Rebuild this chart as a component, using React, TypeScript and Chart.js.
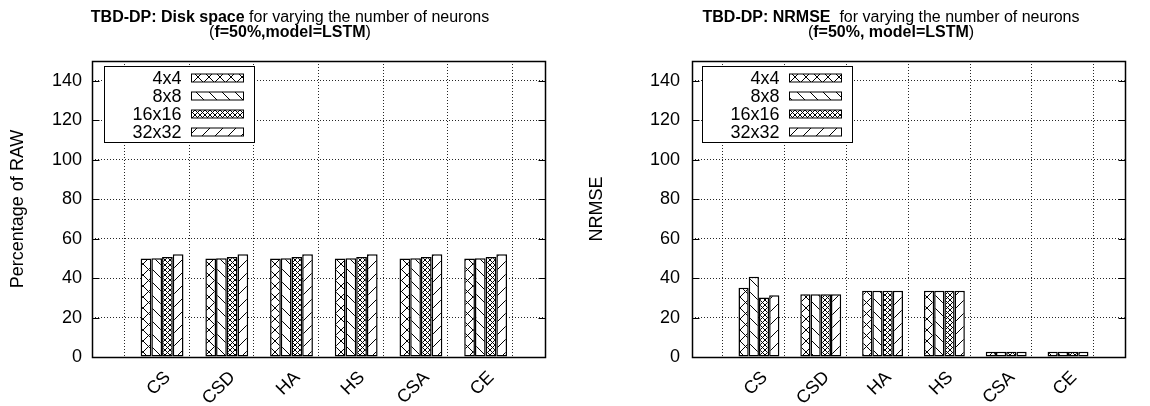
import React, { useEffect, useRef } from 'react';
import { Chart, registerables } from 'chart.js';

Chart.register(...registerables);

// ---------- data ----------
const categories = ['CS', 'CSD', 'HA', 'HS', 'CSA', 'CE'];
const seriesNames = ['4x4', '8x8', '16x16', '32x32'];

const disk4x4 = [49.9, 49.9, 49.9, 49.9, 49.9, 49.9];
const disk8x8 = [50.1, 50.1, 50.1, 50.1, 50.1, 50.1];
const disk16x16 = [50.7, 50.7, 50.7, 50.7, 50.7, 50.7];
const disk32x32 = [52.1, 52.1, 52.1, 52.1, 52.1, 52.1];

const nrmse4x4 = [35.1, 31.8, 33.6, 33.6, 2.7, 2.7];
const nrmse8x8 = [40.7, 31.8, 33.6, 33.6, 2.7, 2.7];
const nrmse16x16 = [30.1, 31.8, 33.6, 33.6, 2.7, 2.7];
const nrmse32x32 = [31.3, 31.8, 33.6, 33.6, 2.7, 2.7];

const yTicks = [0, 20, 40, 60, 80, 100, 120, 140];
const yMin = 0;
const yMax = 150;

const FONT = '"Liberation Sans", Arial, Helvetica, sans-serif';
const FS_TITLE = 16;
const FS = 18;

// ---------- patterns ----------
type Kind = 'x' | 'bs' | 'xx' | 'fs';
function makePattern(kind: Kind): CanvasPattern | string {
  const s = kind === 'x' ? 11 : kind === 'xx' ? 5 : 13;
  const tile = document.createElement('canvas');
  tile.width = s;
  tile.height = s;
  const c = tile.getContext('2d');
  if (!c) return '#fff';
  c.fillStyle = '#fff';
  c.fillRect(0, 0, s, s);
  c.strokeStyle = '#000';
  c.lineWidth = 1;
  c.beginPath();
  for (let k = -1; k <= 1; k++) {
    if (kind === 'x' || kind === 'xx' || kind === 'bs') {
      c.moveTo(k * s, 0);
      c.lineTo(k * s + s, s);
    }
    if (kind === 'x' || kind === 'xx' || kind === 'fs') {
      c.moveTo(k * s, s);
      c.lineTo(k * s + s, 0);
    }
  }
  c.stroke();
  const any = document.createElement('canvas').getContext('2d');
  const p = any ? any.createPattern(tile, 'repeat') : null;
  return p || '#fff';
}

// ---------- plugins ----------
type Part = { t: string; b: boolean };
function richTitlePlugin(lines: Part[][], cx: number, baselines: number[]) {
  return {
    id: 'richTitle',
    afterDraw(chart: any) {
      const ctx = chart.ctx as CanvasRenderingContext2D;
      ctx.save();
      ctx.fillStyle = '#000';
      ctx.textBaseline = 'alphabetic';
      ctx.textAlign = 'left';
      lines.forEach((parts, li) => {
        let total = 0;
        const widths = parts.map((p) => {
          ctx.font = `${p.b ? 'bold ' : ''}${FS_TITLE}px ${FONT}`;
          const w = ctx.measureText(p.t).width;
          total += w;
          return w;
        });
        let x = cx - total / 2;
        parts.forEach((p, i) => {
          ctx.font = `${p.b ? 'bold ' : ''}${FS_TITLE}px ${FONT}`;
          ctx.fillText(p.t, x, baselines[li]);
          x += widths[i];
        });
      });
      ctx.restore();
    },
  };
}

function boxLegendPlugin(dx: number, dy: number) {
  return {
    id: 'boxLegend',
    afterDatasetsDraw(chart: any) {
      const ctx = chart.ctx as CanvasRenderingContext2D;
      const area = chart.chartArea;
      const x0 = Math.round(area.left + dx) + 0.5;
      const y0 = Math.round(area.top + dy) + 0.5;
      const w = 150;
      const h = 76;
      ctx.save();
      ctx.fillStyle = '#fff';
      ctx.fillRect(x0, y0, w, h);
      ctx.strokeStyle = '#000';
      ctx.lineWidth = 1;
      ctx.strokeRect(x0, y0, w, h);
      const items = chart.data.datasets.filter((d: any) => d.label);
      items.forEach((ds: any, i: number) => {
        const cy = Math.round(y0 + 11.5 + i * 17.9);
        ctx.font = `${FS}px ${FONT}`;
        ctx.textAlign = 'right';
        ctx.textBaseline = 'middle';
        ctx.fillStyle = '#000';
        ctx.fillText(ds.label, x0 + 77, cy + 1);
        ctx.fillStyle = ds.backgroundColor;
        ctx.fillRect(x0 + 87, cy - 4, 52, 8);
        ctx.strokeRect(x0 + 87, cy - 4, 52, 8);
      });
      ctx.restore();
    },
  };
}

const framePlugin = {
  id: 'frame',
  afterDatasetsDraw(chart: any) {
    const ctx = chart.ctx as CanvasRenderingContext2D;
    const a = chart.chartArea;
    const ys = chart.scales.y;
    ctx.save();
    ctx.strokeStyle = '#000';
    ctx.lineWidth = 1.5;
    const l = Math.round(a.left) + 0.5;
    const r = Math.round(a.right) + 0.5;
    const t = Math.round(a.top) + 0.5;
    const b = Math.round(a.bottom) + 0.5;
    ctx.strokeRect(l, t, r - l, b - t);
    ctx.lineWidth = 1;
    ctx.beginPath();
    yTicks.forEach((v) => {
      const py = Math.round(ys.getPixelForValue(v)) + 0.5;
      ctx.moveTo(l, py);
      ctx.lineTo(l + 7, py);
      ctx.moveTo(r, py);
      ctx.lineTo(r - 7, py);
    });
    ctx.stroke();
    ctx.restore();
  },
};

// ---------- chart config ----------
type Spec = {
  values: number[][];
  yTitle: string;
  yAxisWidth: number;
  rightPad: number;
  titlePad: number;
  tickPad: number;
  title: Part[][];
  titleCx: number;
  legendDx: number;
};

function buildConfig(spec: Spec): any {
  const kinds: Kind[] = ['x', 'bs', 'xx', 'fs'];
  const xLabels = ['', ...categories, ''];
  const pad = (arr: number[]) => [null, ...arr, null];
  const gridColor = 'rgba(0,0,0,0.85)';
  const font = { family: FONT, size: FS };
  const datasets: any[] = [
    {
      label: '',
      data: pad(categories.map(() => null as any)),
      backgroundColor: 'rgba(0,0,0,0)',
      borderWidth: 0,
    },
    ...seriesNames.map((name, i) => ({
      label: name,
      data: pad(spec.values[i]),
      backgroundColor: makePattern(kinds[i]),
      borderColor: '#000',
      borderWidth: 1.5,
      borderSkipped: false,
    })),
  ];
  return {
    type: 'bar',
    data: { labels: xLabels, datasets },
    options: {
      responsive: false,
      devicePixelRatio: 1,
      animation: false,
      categoryPercentage: 0.827,
      barPercentage: 1,
      layout: { padding: { left: 0, right: spec.rightPad, top: 61, bottom: 0 } },
      plugins: {
        legend: { display: false },
        tooltip: { enabled: false },
        title: { display: false },
      },
      scales: {
        x: {
          type: 'category',
          offset: false,
          grid: { display: true, color: gridColor, drawTicks: false, lineWidth: 1 },
          border: { display: false, dash: [1, 2] },
          ticks: {
            autoSkip: false,
            maxRotation: 45,
            minRotation: 45,
            padding: 10,
            labelOffset: 11,
            color: '#000',
            font,
          },
          afterFit: (s: any) => {
            s.height = 49;
          },
        },
        y: {
          min: yMin,
          max: yMax,
          afterBuildTicks: (s: any) => {
            s.ticks = yTicks.map((v) => ({ value: v }));
          },
          grid: { display: true, color: gridColor, drawTicks: false, lineWidth: 1 },
          border: { display: false, dash: [1, 2] },
          ticks: { padding: spec.tickPad, color: '#000', font },
          title: {
            display: true,
            text: spec.yTitle,
            color: '#000',
            font,
            padding: { top: spec.titlePad, bottom: 0 },
          },
          afterFit: (s: any) => {
            s.width = spec.yAxisWidth;
          },
        },
      },
    },
    plugins: [
      boxLegendPlugin(spec.legendDx, 5),
      framePlugin,
      richTitlePlugin(spec.title, spec.titleCx, [22, 37]),
    ],
  };
}

function ChartCanvas({ spec }: { spec: Spec }) {
  const ref = useRef<HTMLCanvasElement | null>(null);
  useEffect(() => {
    if (!ref.current) return;
    const chart = new Chart(ref.current, buildConfig(spec));
    return () => chart.destroy();
  }, [spec]);
  return <canvas ref={ref} width={575} height={406} style={{ display: 'block', width: 575, height: 406 }} />;
}

const leftSpec: Spec = {
  values: [disk4x4, disk8x8, disk16x16, disk32x32],
  yTitle: 'Percentage of RAW',
  yAxisWidth: 92,
  rightPad: 30,
  titlePad: 7,
  tickPad: 10,
  title: [
    [
      { t: 'TBD-DP: Disk space', b: true },
      { t: ' for varying the number of neurons', b: false },
    ],
    [
      { t: '(', b: false },
      { t: 'f=50%,model=LSTM', b: true },
      { t: ')', b: false },
    ],
  ],
  titleCx: 290,
  legendDx: 12,
};

const rightSpec: Spec = {
  values: [nrmse4x4, nrmse8x8, nrmse16x16, nrmse32x32],
  yTitle: 'NRMSE',
  yAxisWidth: 117,
  rightPad: 9,
  titlePad: 11,
  tickPad: 12,
  title: [
    [
      { t: 'TBD-DP: NRMSE', b: true },
      { t: '  for varying the number of neurons', b: false },
    ],
    [
      { t: '(', b: false },
      { t: 'f=50%, model=LSTM', b: true },
      { t: ')', b: false },
    ],
  ],
  titleCx: 316,
  legendDx: 10,
};

export default function App() {
  return (
    <div
      style={{
        position: 'absolute',
        left: 0,
        top: 0,
        width: 1150,
        height: 406,
        display: 'flex',
        background: '#fff',
      }}
    >
      <ChartCanvas spec={leftSpec} />
      <ChartCanvas spec={rightSpec} />
    </div>
  );
}
